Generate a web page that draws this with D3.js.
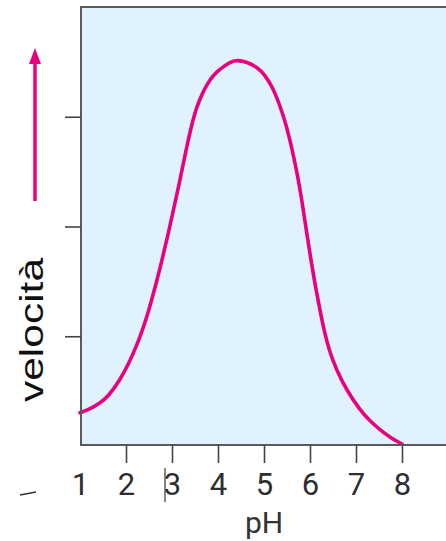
<!DOCTYPE html>
<html>
<head>
<meta charset="utf-8">
<script src="https://cdn.jsdelivr.net/npm/d3@7"></script>
<style>
  body { margin: 0; background: #fff; }
  svg { display: block; }
</style>
</head>
<body>
<div id="chart"></div>
<script>
// curve: pH vs relative velocity
const phValues = [1.000, 1.217, 1.435, 1.609, 1.870, 2.065, 2.228, 2.359, 2.478, 2.576, 2.674, 2.767, 2.854, 2.935, 3.017, 3.093, 3.174,
                  3.248, 3.320, 3.402, 3.496, 3.580, 3.685, 3.815, 3.978, 4.152, 4.283, 4.413,
                  4.630, 4.848, 5.022, 5.196, 5.348, 5.457, 5.565, 5.652, 5.739, 5.815, 5.880, 5.946, 6.011, 6.076, 6.141,
                  6.217, 6.304, 6.413, 6.576, 6.793, 7.087, 7.283, 7.522, 7.761, 8.000];
const velocity = [0.303, 0.337, 0.392, 0.449, 0.601, 0.756, 0.911, 1.057, 1.212, 1.358, 1.513, 1.667, 1.822, 1.968, 2.123, 2.269, 2.424,
                  2.579, 2.724, 2.879, 3.034, 3.134, 3.235, 3.335, 3.412, 3.467, 3.501, 3.517,
                  3.499, 3.453, 3.380, 3.262, 3.098, 2.961, 2.788, 2.624, 2.442, 2.260, 2.077, 1.895, 1.722, 1.558, 1.403,
                  1.239, 1.057, 0.875, 0.692, 0.510, 0.328, 0.237, 0.146, 0.073, 0.018];
const xTicks = [1, 2, 3, 4, 5, 6, 7, 8];
const yTicks = [1, 2, 3];

const width = 446, height = 541;
const plot = {left: 81, top: 7, bottom: 445, right: 446};

const svg = d3.select("#chart").append("svg")
    .attr("width", width)
    .attr("height", height);

const x = d3.scaleLinear().domain([1, 8]).range([80, 402]);
const y = d3.scaleLinear().domain([0, 4]).range([446, 7]);

// background panel
svg.append("rect")
    .attr("x", plot.left)
    .attr("y", plot.top)
    .attr("width", plot.right - plot.left + 2)
    .attr("height", plot.bottom - plot.top)
    .attr("fill", "#e0f2fd");

// curve
const line = d3.line()
    .x((d, i) => x(phValues[i]))
    .y(d => y(d))
    .curve(d3.curveBasis);

svg.append("path")
    .datum(velocity)
    .attr("d", line)
    .attr("fill", "none")
    .attr("stroke", "#e8007f")
    .attr("stroke-width", 3.6)
    .attr("stroke-linecap", "round");

// frame (top, left, bottom)
svg.append("path")
    .attr("d", `M${plot.right + 2},${plot.top} H${plot.left} V${plot.bottom} H${plot.right + 2}`)
    .attr("fill", "none")
    .attr("stroke", "#5a5a5a")
    .attr("stroke-width", 2);

// x axis
const xAxis = d3.axisBottom(x)
    .tickValues(xTicks)
    .tickSize(18)
    .tickPadding(10)
    .tickFormat(d3.format("d"));

const gx = svg.append("g")
    .attr("transform", `translate(0,${plot.bottom})`)
    .call(xAxis);
gx.select(".domain").remove();
gx.selectAll(".tick line")
    .attr("stroke", "#444")
    .attr("stroke-width", 1.6)
    .filter(d => d === 1).remove();
gx.selectAll(".tick text")
    .attr("fill", "#2e2e2e")
    .style("font-family", "Roboto, 'Liberation Sans', sans-serif")
    .style("font-size", "31px");

// y axis, ticks only
const yAxis = d3.axisLeft(y)
    .tickValues(yTicks)
    .tickSize(16)
    .tickFormat("");
const gy = svg.append("g")
    .attr("transform", `translate(${plot.left},0)`)
    .call(yAxis);
gy.select(".domain").remove();
gy.selectAll(".tick line")
    .attr("stroke", "#444")
    .attr("stroke-width", 1.6);

// axis titles
svg.append("text")
    .attr("x", 264)
    .attr("y", 533)
    .attr("text-anchor", "middle")
    .attr("fill", "#333")
    .style("font-family", "Roboto, 'Liberation Sans', sans-serif")
    .style("font-size", "30px")
    .text("pH");

svg.append("text")
    .attr("transform", "translate(43,330) rotate(-90)")
    .attr("text-anchor", "middle")
    .attr("fill", "#111")
    .attr("textLength", 144)
    .attr("lengthAdjust", "spacingAndGlyphs")
    .style("font-family", "'Liberation Sans', Arial, sans-serif")
    .style("font-size", "33px")
    .text("velocità");

// arrow up
svg.append("line")
    .attr("x1", 35).attr("x2", 35)
    .attr("y1", 201).attr("y2", 60)
    .attr("stroke", "#e8007f")
    .attr("stroke-width", 3.5);
svg.append("path")
    .attr("d", "M35,48 L41,64 L29,64 Z")
    .attr("fill", "#e8007f");

// small marks from the scan
svg.append("line")
    .attr("x1", 20).attr("y1", 495).attr("x2", 36).attr("y2", 492)
    .attr("stroke", "#333").attr("stroke-width", 1.5);
svg.append("line")
    .attr("x1", 165).attr("y1", 468).attr("x2", 165).attr("y2", 502)
    .attr("stroke", "#333").attr("stroke-width", 1.2);
</script>
</body>
</html>
